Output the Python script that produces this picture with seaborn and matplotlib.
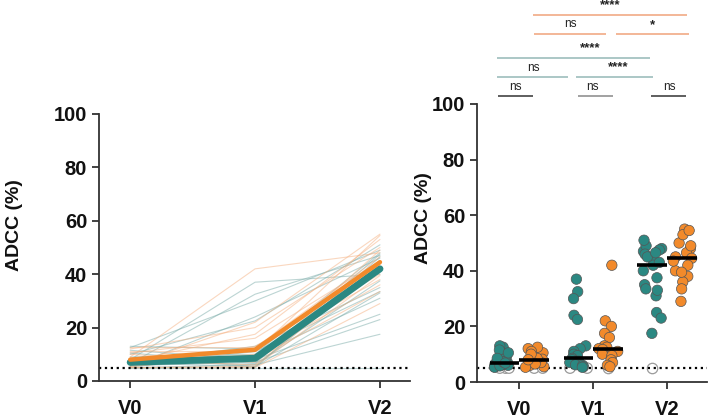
import numpy as np
import pandas as pd
import matplotlib
matplotlib.use("Agg")
import matplotlib.pyplot as plt
import seaborn as sns

visits = ["V0", "V1", "V2"]
groups = ["teal", "orange"]

# subject-wise values (same index = same subject)
teal_v0 = [8, 6.5, 12.5, 5.5, 10, 7, 13, 6, 9, 5.3, 7.5, 11.5, 6.2, 5.8, 10.5, 7.2, 5, 8.5, 6.8, 5, 5]
teal_v1 = [37, 32.5, 30, 24, 22.5, 13, 12, 11, 10, 9.5, 8.5, 8, 7.5, 7, 6.5, 6.2, 6, 5.5, 5.3, 5, 5]
teal_v2 = [40, 47, 49, 46, 51, 35, 44, 33.5, 48, 31, 42, 25, 45, 23, 47.5, 37.5, 17.5, 43, 33, 46.5, 5]

orange_v0 = [9, 6, 12, 7.5, 10.5, 5.5, 12.5, 8.2, 7, 11, 5.3, 8.5, 6.5, 10, 8, 5, 5]
orange_v1 = [42, 22, 20, 17.5, 16, 13, 12.5, 12, 11.7, 11, 10, 9.5, 8, 7, 6, 5.5, 5]
orange_v2 = [48, 55, 50, 53, 45, 40, 46.5, 38, 44.5, 54.5, 36, 43.5, 33.5, 49, 42, 39.5, 29]

LOD = 5.0
yticks = [0, 20, 40, 60, 80, 100]

TEAL = "#2B8882"
ORANGE = "#F28A2B"
THIN_TEAL = "#7AABA8"
THIN_ORANGE = "#F5B080"

rows = []
for g, arrs in (("teal", (teal_v0, teal_v1, teal_v2)), ("orange", (orange_v0, orange_v1, orange_v2))):
    for i in range(len(arrs[0])):
        for k, v in enumerate(visits):
            rows.append(dict(group=g, subject=f"{g}{i}", visit=v, vidx=k, adcc=arrs[k][i]))
df = pd.DataFrame(rows)

sns.set_style("ticks")
plt.rcParams["font.family"] = ["Liberation Sans", "DejaVu Sans"]
plt.rcParams["axes.edgecolor"] = "#333333"
plt.rcParams["xtick.color"] = "#333333"
plt.rcParams["ytick.color"] = "#333333"

fig = plt.figure(figsize=(7.09, 4.19), dpi=100)
ax1 = fig.add_axes([0.1396, 0.0907, 0.4386, 0.6373])
ax2 = fig.add_axes([0.6728, 0.0883, 0.3244, 0.6635])

# ---------- left panel ----------
sns.lineplot(data=df, x="vidx", y="adcc", hue="group", units="subject", estimator=None,
             palette={"teal": THIN_TEAL, "orange": THIN_ORANGE}, lw=0.8, alpha=0.5,
             legend=False, ax=ax1)
sns.lineplot(data=df[df.group == "teal"], x="vidx", y="adcc", estimator="median",
             errorbar=None, color=TEAL, lw=5, ax=ax1)
sns.lineplot(data=df[df.group == "orange"], x="vidx", y="adcc", estimator="median",
             errorbar=None, color=ORANGE, lw=3.2, ax=ax1)
ax1.axhline(LOD, color="black", ls=":", lw=1.6, zorder=2)
ax1.set_xlim(-0.25, 2.24)
ax1.set_xticks(range(len(visits)))
ax1.set_xticklabels(visits)

# ---------- right panel ----------
np.random.seed(3)
below = df[df.adcc <= LOD]
above = df[df.adcc > LOD]
sns.stripplot(data=below, x="visit", y="adcc", hue="group", order=visits, hue_order=groups,
              dodge=True, jitter=0.3, size=7.5, palette={"teal": "white", "orange": "white"},
              edgecolor="#9a9a9a", linewidth=0.9, legend=False, ax=ax2, zorder=1)
ax2.axhline(LOD, color="black", ls=":", lw=1.6, zorder=2)
sns.stripplot(data=above, x="visit", y="adcc", hue="group", order=visits, hue_order=groups,
              dodge=True, jitter=0.28, size=7.5, palette={"teal": TEAL, "orange": ORANGE},
              edgecolor="#555555", linewidth=0.5, legend=False, ax=ax2, zorder=3)
sns.boxplot(data=df, x="visit", y="adcc", hue="group", order=visits, hue_order=groups,
            dodge=True, width=0.8, showbox=False, showcaps=False, showfliers=False, whis=0,
            whiskerprops={"visible": False}, medianprops={"color": "black", "lw": 2.6, "zorder": 5},
            legend=False, ax=ax2)
ax2.set_xlim(-0.57, 2.54)

for ax in (ax1, ax2):
    ax.set_ylim(0, 100)
    ax.set_yticks(yticks)
    ax.set_xlabel("")
    ax.set_ylabel("ADCC (%)", fontsize=14, fontweight="bold", color="#111111")
    for lab in ax.get_yticklabels() + ax.get_xticklabels():
        lab.set_fontweight("bold")
        lab.set_fontsize(14.5)
    ax.tick_params(axis="both", length=5, width=1.3, direction="out", labelcolor="#111111")
    ax.tick_params(axis="x", pad=8)
    for s in ("left", "bottom"):
        ax.spines[s].set_linewidth(1.3)
    sns.despine(ax=ax)

ax1.yaxis.set_label_coords(-0.244, 0.584)
ax2.yaxis.set_label_coords(-0.196, 0.59)

# ---------- significance annotations ----------
LINE_OR = "#F0A37A"
LINE_TE = "#94B8B6"
bars = [
    (0.19, 2.27, 132.0, LINE_OR), (0.20, 1.18, 125.2, LINE_OR), (1.31, 2.30, 125.2, LINE_OR),
    (-0.30, 1.77, 116.5, LINE_TE), (-0.30, 0.66, 109.7, LINE_TE), (0.77, 1.81, 109.7, LINE_TE),
    (-0.28, 0.19, 102.9, "#333333"), (0.80, 1.27, 102.9, "#888888"), (1.78, 2.26, 102.9, "#333333"),
]
for x0, x1, y, c in bars:
    ax2.plot([x0, x1], [y, y], color=c, lw=1.1, clip_on=False, solid_capstyle="butt")
labels = [
    (1.23, 135.6, "****", True), (0.69, 128.6, "ns", False), (1.80, 128.4, "*", True),
    (0.96, 120.2, "****", True), (0.19, 112.9, "ns", False), (1.34, 113.1, "****", True),
    (-0.05, 106.0, "ns", False), (0.99, 106.0, "ns", False), (2.03, 106.0, "ns", False),
]
for x, y, t, b in labels:
    ax2.text(x, y, t, ha="center", va="center", fontsize=8.5 if not b else 9.5,
             fontweight="bold" if b else "normal", color="#222222", clip_on=False)

fig.savefig("out.png", dpi=100)
